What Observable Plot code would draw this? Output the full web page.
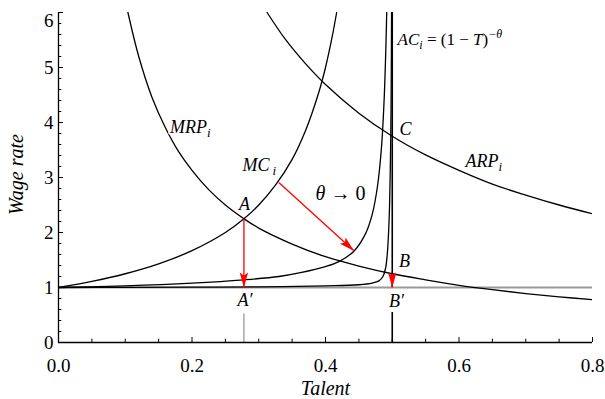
<!DOCTYPE html>
<html><head><meta charset="utf-8">
<script src="https://cdn.jsdelivr.net/npm/d3@7"></script>
<script src="https://cdn.jsdelivr.net/npm/@observablehq/plot@0.6"></script>
<style>
html,body{margin:0;padding:0;background:#fff;}
#chart svg, #chart svg text { font-family: "Liberation Serif", "Times New Roman", serif; }
</style></head><body><div id="chart"></div>
<script>
// ---- tick values and labels ----
const xTicks = [0, 0.2, 0.4, 0.6, 0.8];
const xTickLabels = ["0.0", "0.2", "0.4", "0.6", "0.8"];
const xMinorTicks = [0.05, 0.1, 0.15, 0.25, 0.3, 0.35, 0.45, 0.5, 0.55, 0.65, 0.7, 0.75];
const yTicks = [0, 1, 2, 3, 4, 5];
const yTopTick = [6];
const yMinorTicks = [0.2, 0.4, 0.6, 0.8, 1.2, 1.4, 1.6, 1.8, 2.2, 2.4, 2.6, 2.8, 3.2, 3.4, 3.6, 3.8, 4.2, 4.4, 4.6, 4.8, 5.2, 5.4, 5.6, 5.8];

// ---- curves ----
const mrpX = [0.104, 0.12, 0.14, 0.16, 0.18, 0.2, 0.225, 0.25, 0.2778, 0.3, 0.35, 0.4, 0.45, 0.5, 0.55, 0.6, 0.65, 0.7, 0.75, 0.8];
const mrpY = [6.0, 5.21, 4.46, 3.91, 3.47, 3.13, 2.78, 2.5, 2.25, 2.08, 1.79, 1.56, 1.39, 1.25, 1.14, 1.04, 0.96, 0.89, 0.83, 0.78];

const arpX = [0.3125, 0.34, 0.37, 0.4, 0.45, 0.5, 0.55, 0.6, 0.65, 0.7, 0.75, 0.8];
const arpY = [6.0, 5.51, 5.07, 4.69, 4.17, 3.75, 3.41, 3.13, 2.88, 2.68, 2.5, 2.34];

const mc1X = [0, 0.05, 0.1, 0.15, 0.2, 0.25, 0.2778, 0.3, 0.325, 0.35, 0.37, 0.39, 0.4, 0.41, 0.4167];
const mc1Y = [1, 1.11, 1.25, 1.43, 1.67, 2.0, 2.25, 2.5, 2.86, 3.33, 3.85, 4.55, 5.0, 5.56, 6.0];

const mc2X = [0, 0.1, 0.2, 0.2778, 0.33, 0.3625, 0.4, 0.42, 0.4425, 0.46, 0.47, 0.478, 0.484, 0.488, 0.4905, 0.4917];
const mc2Y = [1, 1.03, 1.08, 1.14, 1.2, 1.27, 1.38, 1.47, 1.66, 1.98, 2.33, 2.85, 3.57, 4.46, 5.39, 6.0];

const mc3X = [0, 0.1, 0.2, 0.3, 0.4, 0.45, 0.47, 0.48, 0.486, 0.49, 0.4925, 0.4945, 0.496, 0.497, 0.498, 0.4985, 0.499];
const mc3Y = [1, 1.003, 1.007, 1.012, 1.03, 1.05, 1.08, 1.12, 1.2, 1.35, 1.6, 2.0, 2.5, 3.1, 4.0, 4.8, 6.0];

// ---- reference lines ----
const baseWage = [1];
const segX = [0.2778, 0.5, 0.5];
const segY1 = [0, 0, 1];
const segY2 = [0.52, 0.545, 6];
const segKind = ["grey", "black", "black"];

// ---- red arrows ----
const arrowX1 = [0.2778, 0.33, 0.5];
const arrowY1 = [2.25, 2.91, 1.25];
const arrowX2 = [0.2778, 0.4425, 0.5];
const arrowY2 = [1.0, 1.67, 1.0];

// ---- labels ----
const labelText = ["MRP_i", "MC_i", "ARP_i", "A", "A′", "B", "B′", "C"];
const labelX = [0.1975, 0.301, 0.637, 0.2785, 0.2795, 0.5185, 0.5065, 0.52];
const labelY = [3.92, 3.23, 3.30, 2.51, 0.76, 1.48, 0.75, 3.88];
const thetaLabel = ["θ → 0"];
const thetaX = [0.4225], thetaY = [2.71];
const acLabel = ["AC_i = (1 − T)^−θ"];
const acX = [0.508], acY = [5.50];

const SERIF = "Liberation Serif, Times New Roman, serif";
const pts = (xs, ys) => xs.map((x, i) => ({x, y: ys[i]}));
const segs = segX.map((x, i) => ({x, y1: segY1[i], y2: segY2[i], kind: segKind[i]}));
const arrows = arrowX1.map((x, i) => ({x1: x, y1: arrowY1[i], x2: arrowX2[i], y2: arrowY2[i]}));
const labels = labelText.map((t, i) => ({t, x: labelX[i], y: labelY[i]}));

const curveOpts = {x: "x", y: "y", curve: "catmull-rom", stroke: "black", strokeWidth: 1.3, clip: true};

const chart = Plot.plot({
  width: 605, height: 399,
  marginLeft: 58, marginRight: 13, marginTop: 12, marginBottom: 57,
  x: {domain: [0, 0.8], axis: null},
  y: {domain: [0, 6], axis: null},
  style: {fontFamily: SERIF, fontSize: "19px", background: "white", color: "black", overflow: "visible"},
  marks: [
    // grey guide lines
    Plot.ruleY(baseWage, {y: d => d, stroke: "#999", strokeWidth: 1.8}),
    Plot.ruleX(segs.filter(d => d.kind === "grey"), {x: "x", y1: "y1", y2: "y2", stroke: "#999", strokeWidth: 1.3}),
    Plot.ruleX(segs.filter(d => d.kind === "black"), {x: "x", y1: "y1", y2: "y2", stroke: "black", strokeWidth: 1.6}),
    // curves
    Plot.line(pts(mrpX, mrpY), curveOpts),
    Plot.line(pts(arpX, arpY), curveOpts),
    Plot.line(pts(mc1X, mc1Y), curveOpts),
    Plot.line(pts(mc2X, mc2Y), curveOpts),
    Plot.line(pts(mc3X, mc3Y), curveOpts),
    // axis lines
    Plot.ruleX([0], {x: d => d, stroke: "black", strokeWidth: 1.3}),
    Plot.ruleY([0], {y: d => d, stroke: "black", strokeWidth: 1.3}),
    // inward ticks
    Plot.ruleX(xTicks, {x: d => d, y1: () => 0, y2: () => 0, insetBottom: 5, stroke: "black", strokeWidth: 1}),
    Plot.ruleX(xMinorTicks, {x: d => d, y1: () => 0, y2: () => 0, insetBottom: 3.3, stroke: "black", strokeWidth: 1}),
    Plot.ruleY(yTicks.concat(yTopTick), {y: d => d, x1: () => 0, x2: () => 0, insetRight: -5, stroke: "black", strokeWidth: 1}),
    Plot.ruleY(yMinorTicks, {y: d => d, x1: () => 0, x2: () => 0, insetRight: -3.3, stroke: "black", strokeWidth: 1}),
    // tick labels
    Plot.text(xTicks, {x: d => d, text: (d, i) => xTickLabels[i], frameAnchor: "bottom", lineAnchor: "top", dy: 16, fontSize: 19, fontFamily: SERIF}),
    Plot.text(yTicks, {y: d => d, text: d => String(d), frameAnchor: "left", textAnchor: "end", dx: -5, fontSize: 19, fontFamily: SERIF}),
    Plot.text(yTopTick, {y: d => d, text: d => String(d), frameAnchor: "left", textAnchor: "end", dx: -5, dy: 8, fontSize: 19, fontFamily: SERIF}),
    // axis titles
    Plot.text(["Talent"], {text: d => d, frameAnchor: "bottom", textAnchor: "middle", dy: 52, fontStyle: "italic", fontSize: 20, fontFamily: SERIF}),
    Plot.text(["Wage rate"], {text: d => d, frameAnchor: "left", textAnchor: "middle", lineAnchor: "middle", rotate: -90, dx: -42, dy: -3, fontStyle: "italic", fontSize: 20, fontFamily: SERIF}),
    // red arrows
    Plot.link(arrows, {x1: "x1", y1: "y1", x2: "x2", y2: "y2", stroke: "#f00", strokeWidth: 1.3, markerEnd: "arrow"}),
    // labels
    Plot.text(labels, {x: "x", y: "y", text: "t", fontStyle: "italic", fontSize: 18, fontFamily: SERIF, stroke: "white", strokeWidth: 3, fill: "black"}),
    Plot.text(thetaLabel, {x: () => thetaX[0], y: () => thetaY[0], text: d => d, fontSize: 20, fontFamily: SERIF, fill: "black"}),
    Plot.text(acLabel, {x: () => acX[0], y: () => acY[0], text: d => d, textAnchor: "start", fontStyle: "italic", fontSize: 17, fontFamily: SERIF, fill: "black"})
  ]
});

// filled arrowheads
chart.querySelectorAll("marker").forEach(m => {
  m.setAttribute("viewBox", "-15 -4.5 15 9");
  m.setAttribute("markerWidth", 15);
  m.setAttribute("markerHeight", 9);
  m.setAttribute("markerUnits", "userSpaceOnUse");
  m.setAttribute("refX", 0);
  m.setAttribute("refY", 0);
  m.setAttribute("orient", "auto");
  m.setAttribute("overflow", "visible");
  m.innerHTML = '<path d="M0,0L-15,-4.2L-12,0L-15,4.2Z" fill="#f00" stroke="none"/>';
});

// rich text (subscripts, superscripts)
const rich = {
  "MRP_i": 'MRP<tspan dy="4" font-size="13">i</tspan>',
  "MC_i": 'MC<tspan dx="3" dy="4" font-size="13">i</tspan>',
  "ARP_i": 'ARP<tspan dy="4" font-size="13">i</tspan>',
  "θ → 0": '<tspan font-style="italic">θ</tspan> → 0',
  "AC_i = (1 − T)^−θ": 'AC<tspan dy="4" font-size="12">i</tspan><tspan dy="-4" font-style="normal"> = (1 − </tspan>T<tspan font-style="normal">)</tspan><tspan dy="-7" font-size="12">−θ</tspan>'
};
chart.querySelectorAll("text").forEach(t => {
  const s = t.textContent;
  if (rich[s]) t.innerHTML = rich[s];
});

document.getElementById("chart").appendChild(chart);
</script>
</body></html>
